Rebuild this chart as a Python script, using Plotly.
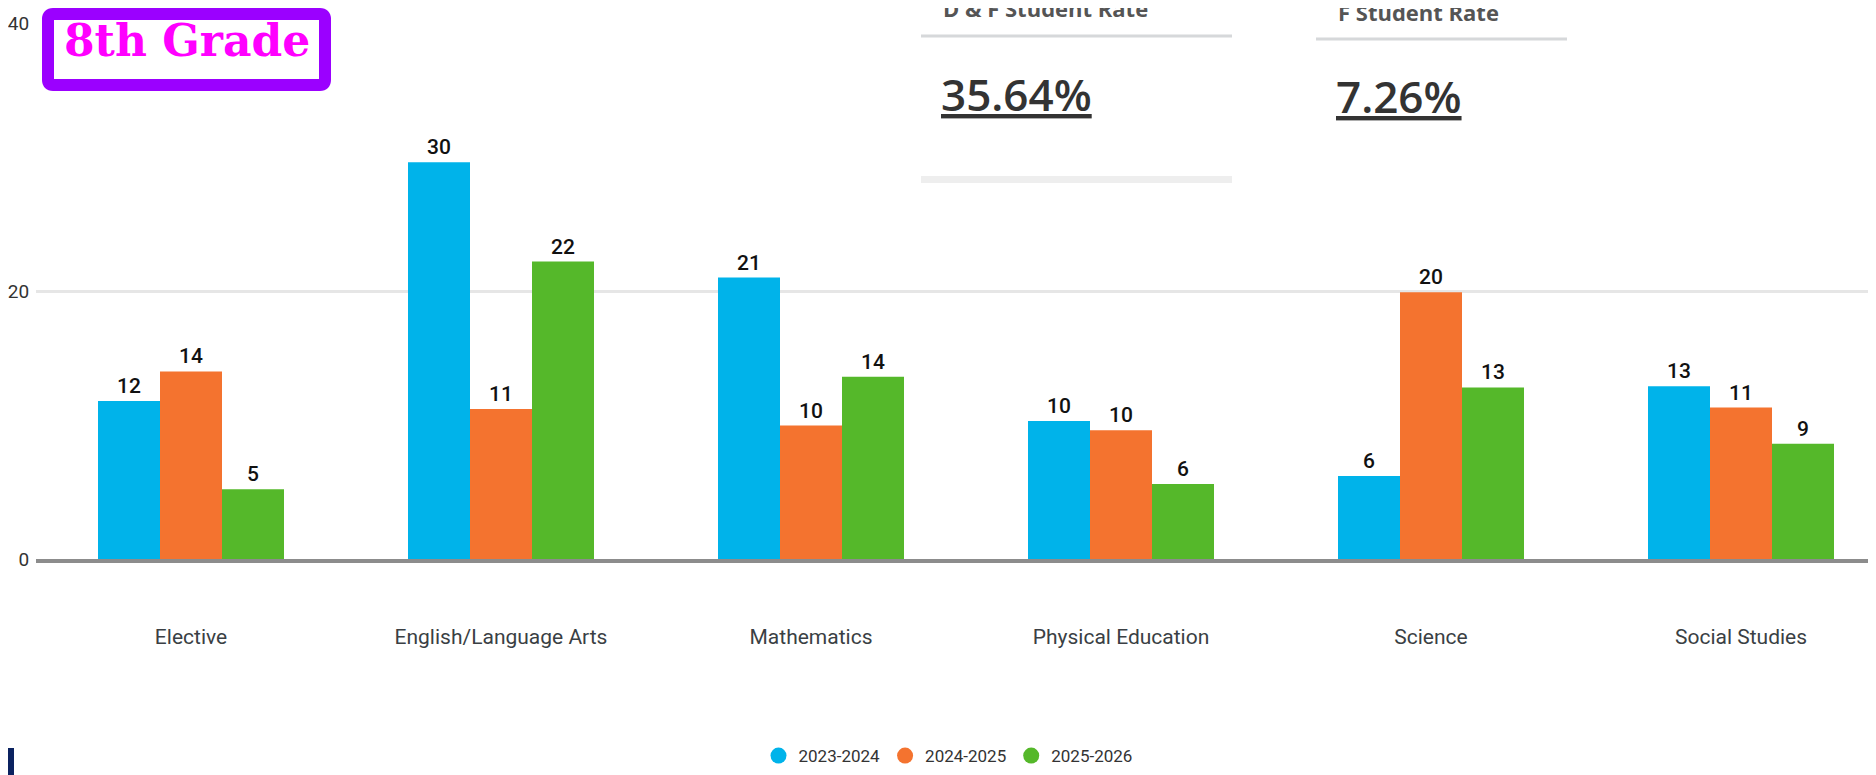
import plotly.graph_objects as go

subjects = ["Elective", "English/Language Arts", "Mathematics",
            "Physical Education", "Science", "Social Studies"]
years = ["2023-2024", "2024-2025", "2025-2026"]

rate_2023 = [11.8, 29.6, 21.0, 10.3, 6.2, 12.9]
rate_2024 = [14.0, 11.2, 9.96, 9.6, 19.9, 11.3]
rate_2025 = [5.2, 22.2, 13.6, 5.6, 12.8, 8.6]

label_2023 = ["12", "30", "21", "10", "6", "13"]
label_2024 = ["14", "11", "10", "10", "20", "11"]
label_2025 = ["5", "22", "14", "6", "13", "9"]

y_ticks = [0, 20, 40]

grade_title = "8th Grade"
card_titles = ["D & F Student Rate", "F Student Rate"]
card_values = ["35.64%", "7.26%"]

BLUE = "#00B3EA"
ORANGE = "#F4732F"
GREEN = "#55B82A"
NARROW = "Roboto, Liberation Sans, sans-serif"

# the page body keeps its default 8px margin, so the figure sits 8px in
PAGE = 8
W, H = 1876 - PAGE, 775 - PAGE
# plot area in window pixels
L, R, T, B = 36, 1876, 23, 559


def px(x):
    return (x - L) / (R - L)


def py(y):
    return (B - y) / (B - T)


def rounded_rect(x0, y0, x1, y1, r):
    # path in paper units, corners rounded by r window pixels
    pts = [
        f"M {px(x0 + r)} {py(y0)}", f"L {px(x1 - r)} {py(y0)}",
        f"Q {px(x1)} {py(y0)} {px(x1)} {py(y0 + r)}", f"L {px(x1)} {py(y1 - r)}",
        f"Q {px(x1)} {py(y1)} {px(x1 - r)} {py(y1)}", f"L {px(x0 + r)} {py(y1)}",
        f"Q {px(x0)} {py(y1)} {px(x0)} {py(y1 - r)}", f"L {px(x0)} {py(y0 + r)}",
        f"Q {px(x0)} {py(y0)} {px(x0 + r)} {py(y0)}", "Z",
    ]
    return " ".join(pts)


fig = go.Figure()

for vals, labels, color in ((rate_2023, label_2023, BLUE),
                            (rate_2024, label_2024, ORANGE),
                            (rate_2025, label_2025, GREEN)):
    fig.add_trace(go.Bar(
        x=subjects, y=vals, text=labels,
        textposition="outside", constraintext="none", cliponaxis=False,
        textfont=dict(family=NARROW, size=21, color="#111111", weight=500),
        marker=dict(color=color, line=dict(width=0)),
        showlegend=False, hoverinfo="x+y",
    ))

# legend entries drawn as dots, like the source
for name, color in zip(years, (BLUE, ORANGE, GREEN)):
    fig.add_trace(go.Scatter(
        x=[None], y=[None], mode="markers", name=name,
        marker=dict(color=color, size=17, symbol="circle"),
    ))

shapes = [
    # "8th Grade" badge
    dict(type="path", xref="paper", yref="paper",
         path=rounded_rect(48, 14, 325, 85, 5),
         line=dict(color="#9B00FF", width=12), fillcolor="white", layer="above"),
    # card panels
    dict(type="rect", xref="paper", yref="paper",
         x0=px(921), x1=px(1232), y0=py(0), y1=py(182),
         line=dict(width=0), fillcolor="white", layer="above"),
    dict(type="rect", xref="paper", yref="paper",
         x0=px(1316), x1=px(1567), y0=py(0), y1=py(170),
         line=dict(width=0), fillcolor="white", layer="above"),
    dict(type="line", xref="paper", yref="paper",
         x0=px(921), x1=px(1232), y0=py(36), y1=py(36),
         line=dict(color="#D6D8DA", width=3), layer="above"),
    dict(type="line", xref="paper", yref="paper",
         x0=px(1316), x1=px(1567), y0=py(39), y1=py(39),
         line=dict(color="#D6D8DA", width=3), layer="above"),
    dict(type="rect", xref="paper", yref="paper",
         x0=px(921), x1=px(1232), y0=py(176), y1=py(183),
         line=dict(width=0), fillcolor="#EEEEEE", layer="above"),
    # navy corner mark
    dict(type="rect", xref="paper", yref="paper",
         x0=px(PAGE), x1=px(PAGE + 6), y0=py(748), y1=py(780),
         line=dict(width=0), fillcolor="#0B2260", layer="above"),
]

annotations = [
    dict(text=f"<b>{grade_title}</b>", xref="paper", yref="paper",
         x=px(187), y=py(40), showarrow=False, xanchor="center", yanchor="middle",
         font=dict(family="DejaVu Serif", size=44, color="#FF00FF")),
]
for title, value, x0, ty, vy in zip(card_titles, card_values,
                                    (941, 1336), (8, 12), (94, 96)):
    annotations.append(dict(
        text=f"<b>{title}</b>", xref="paper", yref="paper",
        x=px(x0), y=py(ty), showarrow=False, xanchor="left", yanchor="middle",
        font=dict(family="Open Sans", size=22, color="#555555")))
    annotations.append(dict(
        text=value, xref="paper", yref="paper",
        x=px(x0 - 2), y=py(vy), showarrow=False, xanchor="left", yanchor="middle",
        font=dict(family="Open Sans", size=44, color="#333333", weight=600,
                  lineposition="under")))

fig.update_layout(
    width=W, height=H,
    margin=dict(l=L - PAGE, r=0, t=T - PAGE, b=H - (B - PAGE), autoexpand=False),
    paper_bgcolor="white", plot_bgcolor="white",
    barmode="group", bargap=0.4, bargroupgap=0,
    font=dict(family=NARROW, color="#333333"),
    legend=dict(orientation="h", x=px(948), y=py(756),
                xanchor="center", yanchor="middle",
                font=dict(family=NARROW, size=17, color="#333333"),
                itemwidth=30, tracegroupgap=0),
    shapes=shapes, annotations=annotations,
)
fig.update_xaxes(
    range=[-0.5, -0.5 + (R - L) / 310.0], automargin=False,
    showline=True, linecolor="#8C8C8C", linewidth=4,
    ticks="outside", ticklen=56, tickcolor="rgba(0,0,0,0)",
    tickfont=dict(family=NARROW, size=21, color="#3a3f44"),
    showgrid=False, fixedrange=True,
)
fig.update_yaxes(
    range=[0, 40], tickvals=y_ticks, automargin=False,
    showgrid=True, gridcolor="#E6E6E6", gridwidth=3, zeroline=False,
    ticks="outside", ticklen=2, tickcolor="rgba(0,0,0,0)",
    tickfont=dict(family=NARROW, size=19, color="#333333"),
    fixedrange=True,
)

fig.write_html("out.html")
